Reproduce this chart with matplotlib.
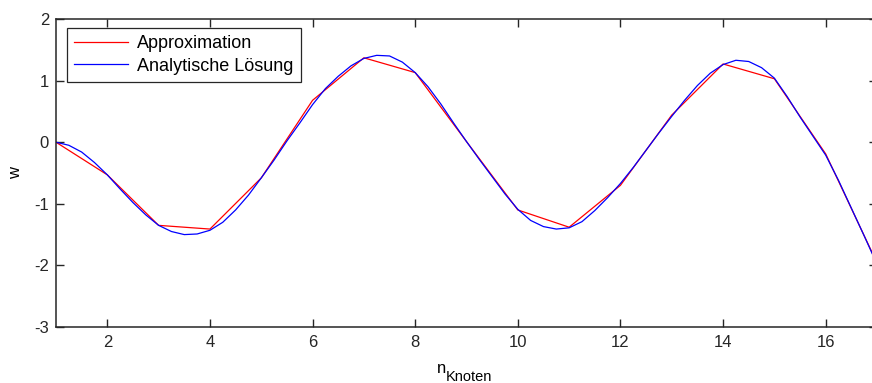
import matplotlib
matplotlib.use("Agg")
import matplotlib.pyplot as plt

plt.rcParams['font.family'] = ['Liberation Sans', 'DejaVu Sans']
plt.rcParams['axes.unicode_minus'] = False

# Approximation at the nodes
n_knoten = list(range(1, 18))
w_approx = [0.00, -0.53, -1.35, -1.41, -0.58, 0.68, 1.37, 1.13, 0.01,
            -1.10, -1.38, -0.70, 0.44, 1.27, 1.03, -0.19, -1.96]

x_exact = [1 + 0.25 * i for i in range(65)]
w_exact = [0.00, -0.05, -0.16, -0.33, -0.53, -0.76, -0.98, -1.18,
           -1.35, -1.45, -1.50, -1.49, -1.43, -1.30, -1.10, -0.86,
           -0.58, -0.29, 0.02, 0.31, 0.61, 0.87, 1.07, 1.24,
           1.36, 1.41, 1.40, 1.30, 1.13, 0.90, 0.62, 0.31,
           0.01, -0.28, -0.56, -0.84, -1.09, -1.27, -1.37, -1.41,
           -1.39, -1.29, -1.11, -0.90, -0.67, -0.41, -0.13, 0.15,
           0.42, 0.68, 0.92, 1.12, 1.26, 1.33, 1.31, 1.21,
           1.04, 0.74, 0.41, 0.10, -0.21, -0.62, -1.07, -1.52,
           -1.98]

fig = plt.figure(figsize=(8.72, 3.83), dpi=100)
ax = fig.add_axes([56/872, 1 - 327/383, 821/872, 308/383])

ax.plot(n_knoten, w_approx, color='red', lw=0.9, label='Approximation')
ax.plot(x_exact, w_exact, color='blue', lw=0.9, label='Analytische Lösung')

ax.set_xlim(1, 17)
ax.set_ylim(-3, 2)
ax.set_xticks(range(2, 17, 2))
ax.set_yticks(range(-3, 3))
ax.tick_params(direction='in', top=True, right=True, length=6,
               width=1, labelsize=12, colors='#262626')
ax.tick_params(axis='x', pad=6)
ax.tick_params(axis='y', pad=5)
for s in ax.spines.values():
    s.set_color('#262626')
    s.set_linewidth(1.1)

ax.set_ylabel('w', fontsize=12, labelpad=8)

# x label with MATLAB-style subscript
fig.text(437/872, 1 - 373/383, 'n', fontsize=12, va='baseline', ha='left')
fig.text(446/872, 1 - 381/383, 'Knoten', fontsize=10.5, va='baseline', ha='left')

leg = ax.legend(loc='upper left', bbox_to_anchor=(11/821, 299/308),
                borderaxespad=0, fontsize=13, handlelength=3.0,
                handletextpad=0.5, borderpad=0.4, labelspacing=0.3,
                fancybox=False, framealpha=1, edgecolor='#262626')
leg.get_frame().set_linewidth(0.9)

fig.savefig('out.png', dpi=100)
